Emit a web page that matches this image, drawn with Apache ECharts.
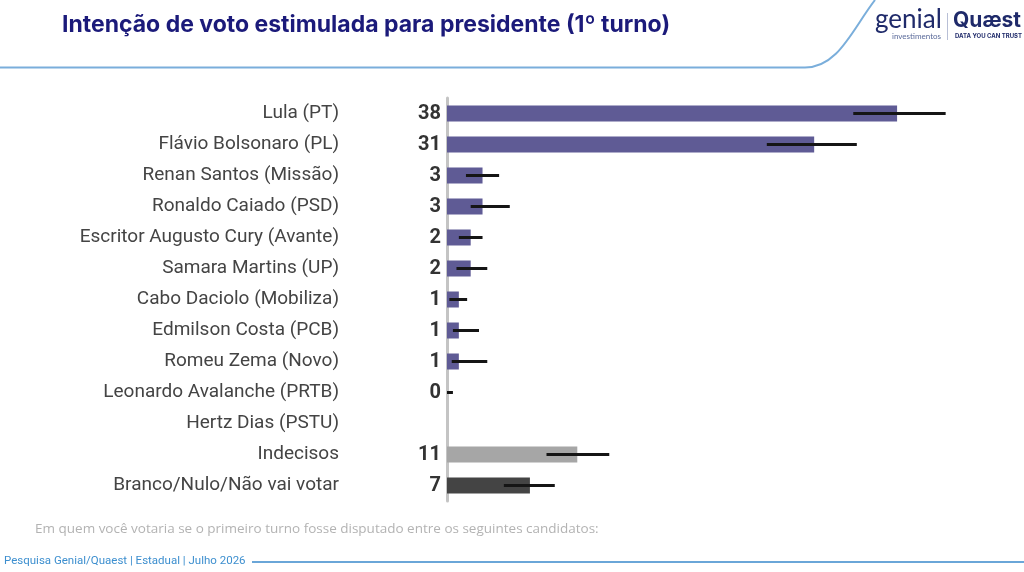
<!DOCTYPE html>
<html>
<head>
<meta charset="utf-8">
<script src="https://cdn.jsdelivr.net/npm/echarts@6/dist/echarts.min.js"></script>
<style>
html,body{margin:0;padding:0;background:#fff;}
#chart{width:1024px;height:572px;}
</style>
</head>
<body>
<div id="chart"></div>
<script>
const categories = [
  'Lula (PT)',
  'Flávio Bolsonaro (PL)',
  'Renan Santos (Missão)',
  'Ronaldo Caiado (PSD)',
  'Escritor Augusto Cury (Avante)',
  'Samara Martins (UP)',
  'Cabo Daciolo (Mobiliza)',
  'Edmilson Costa (PCB)',
  'Romeu Zema (Novo)',
  'Leonardo Avalanche (PRTB)',
  'Hertz Dias (PSTU)',
  'Indecisos',
  'Branco/Nulo/Não vai votar'
];
const values = [38, 31, 3, 3, 2, 2, 1, 1, 1, 0, null, 11, 7];
const errLow  = [34.3, 27.0, 1.6, 2.0, 1.0, 0.8, 0.2, 0.5, 0.4, 0.0, null, 8.4, 4.8];
const errHigh = [42.1, 34.6, 4.4, 5.3, 3.0, 3.4, 1.7, 2.7, 3.4, 0.5, null, 13.7, 9.1];

const title = 'Intenção de voto estimulada para presidente (1º turno)';
const note = 'Em quem você votaria se o primeiro turno fosse disputado entre os seguintes candidatos:';
const footer = 'Pesquisa Genial/Quaest | Estadual | Julho 2026';

const colorFor = (name) => name === 'Indecisos' ? '#a6a6a6' : (name === 'Branco/Nulo/Não vai votar' ? '#444444' : '#5f5b95');

const errData = [];
categories.forEach((c, i) => {
  if (errLow[i] !== null && errHigh[i] !== null) errData.push([i, errLow[i], errHigh[i]]);
});

const chart = echarts.init(document.getElementById('chart'));
chart.setOption({
  animation: false,
  backgroundColor: '#ffffff',
  grid: { left: 447, top: 98, height: 403, right: 44 },
  xAxis: { type: 'value', min: 0, max: 45, show: false },
  yAxis: {
    type: 'category',
    data: categories,
    inverse: true,
    axisLine: { show: true, lineStyle: { color: '#c4c4c4', width: 3 } },
    axisTick: { show: false },
    axisLabel: { margin: 108, fontSize: 19, color: '#444444', fontFamily: 'Roboto' }
  },
  series: [
    {
      type: 'bar',
      data: values,
      barWidth: 16,
      itemStyle: { color: (p) => colorFor(p.name) },
      label: {
        show: true, position: 'left', distance: 6,
        fontSize: 20, fontWeight: 'bold', color: '#333333', fontFamily: 'Roboto'
      },
      z: 3
    },
    {
      type: 'custom',
      data: errData,
      encode: { x: [1, 2], y: 0 },
      renderItem: (params, api) => {
        const idx = api.value(0);
        const p1 = api.coord([api.value(1), idx]);
        const p2 = api.coord([api.value(2), idx]);
        return {
          type: 'line',
          shape: { x1: p1[0], y1: p1[1], x2: p2[0], y2: p2[1] },
          style: { stroke: '#151515', lineWidth: 3 }
        };
      },
      z: 5
    }
  ],
  graphic: [
    { type: 'text', x: 62, y: 14, style: { text: title, fontSize: 23, fontWeight: 'bold', fill: '#1b1a7a', fontFamily: 'Inter' } },
    { type: 'line', shape: { x1: 0, y1: 67.5, x2: 805, y2: 67.5 }, style: { stroke: '#7aaedb', lineWidth: 2 } },
    { type: 'bezierCurve', shape: { x1: 805, y1: 67.5, cpx1: 838, cpy1: 67.5, cpx2: 852, cpy2: 30, x2: 875, y2: 0 }, style: { stroke: '#7aaedb', lineWidth: 2, fill: null } },
    { type: 'text', x: 875, y: 7, style: { text: 'genial', fontSize: 26, fill: '#1f2a6a', fontFamily: 'Lato' } },
    { type: 'text', x: 892, y: 32, style: { text: 'investimentos', fontSize: 8, fill: '#5a6a9a', fontFamily: 'Lato' } },
    { type: 'rect', shape: { x: 947, y: 13, width: 1, height: 27 }, style: { fill: '#b8bfd6' } },
    { type: 'text', x: 953, y: 10, style: { text: 'Quæst', fontSize: 21, fontWeight: 'bold', fill: '#1f2a6a', fontFamily: 'Inter' } },
    { type: 'text', x: 955, y: 33, style: { text: 'DATA YOU CAN TRUST', fontSize: 6, fontWeight: 'bold', fill: '#1f2a6a', fontFamily: 'Inter' } },
    { type: 'text', x: 35, y: 522, style: { text: note, fontSize: 13.5, fill: '#b3b3b3', fontFamily: 'Open Sans' } },
    { type: 'text', x: 4, y: 555, style: { text: footer, fontSize: 11.5, fill: '#3d8fcf', fontFamily: 'Roboto' } },
    { type: 'rect', shape: { x: 252, y: 561, width: 772, height: 2 }, style: { fill: '#6aa6d8' } }
  ]
});
</script>
</body>
</html>
